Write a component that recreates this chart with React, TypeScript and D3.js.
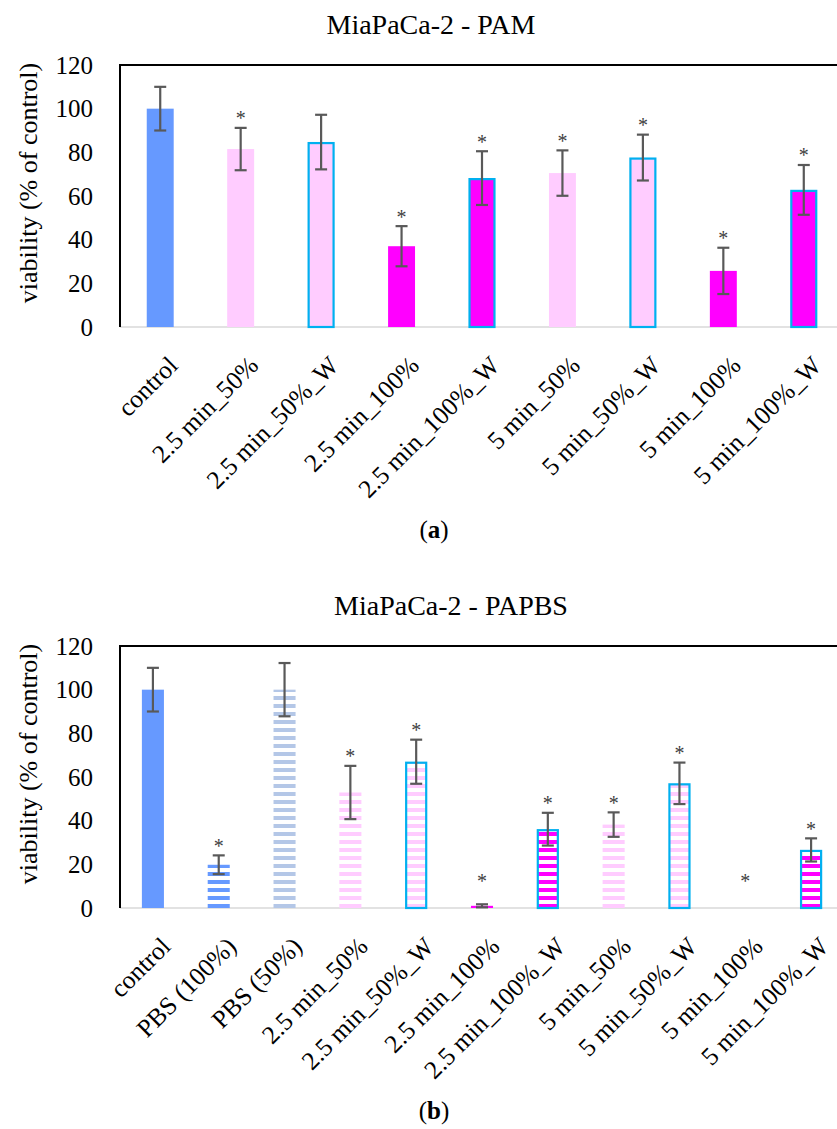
import React from 'react';
import * as d3 from 'd3';

// panel (a): MiaPaCa-2 - PAM
const catsA = ['control', '2.5 min_50%', '2.5 min_50%_W', '2.5 min_100%', '2.5 min_100%_W', '5 min_50%', '5 min_50%_W', '5 min_100%', '5 min_100%_W'];
const meanA = [100, 81.5, 84.7, 37, 68.2, 70.5, 77.6, 25.7, 62.8];
const errA = [10, 9.7, 12.5, 9.2, 12.3, 10.4, 10.5, 10.6, 11.4];
const sigA = [false, true, false, true, true, true, true, true, true];

// panel (b): MiaPaCa-2 - PAPBS
const catsB = ['control', 'PBS (100%)', 'PBS (50%)', '2.5 min_50%', '2.5 min_50%_W', '2.5 min_100%', '2.5 min_100%_W', '5 min_50%', '5 min_50%_W', '5 min_100%', '5 min_100%_W'];
const meanB = [100, 19.8, 100, 52.9, 67, 1, 36.1, 38.2, 57.1, 0, 26.6];
const errB = [10, 4.3, 12.2, 12.2, 10.1, 0.7, 7.5, 5.6, 9.5, 0, 5.3];
const sigB = [false, true, false, true, true, true, true, true, true, true, true];

const yTicks = [0, 20, 40, 60, 80, 100, 120];

const FONT = '"Liberation Serif", "Times New Roman", serif';
const BLUE = '#6699FF';
const STEEL = '#B4C7E7';
const PINK = '#FFCCFF';
const MAGENTA = '#FF00FF';
const CYAN = '#00B0F0';

const baseColor = (c: string) => {
  if (c === 'control' || c === 'PBS (100%)') return BLUE;
  if (c === 'PBS (50%)') return STEEL;
  if (c.includes('100%')) return MAGENTA;
  return PINK;
};

type PanelProps = {
  cats: string[];
  mean: number[];
  err: number[];
  sig: boolean[];
  top: number;
  striped: boolean;
  title: string;
  titleX: number;
  tag: string;
};

const Panel = ({ cats, mean, err, sig, top, striped, title, titleX, tag }: PanelProps) => {
  const left = 120;
  const right = 844;
  const h = 262;
  const bottom = top + h;
  const x = d3.scaleBand<string>().domain(cats).range([left, right]).paddingInner(0.665).paddingOuter(0.3325);
  const y = d3.scaleLinear().domain([0, 120]).range([bottom, top]);
  const bw = x.bandwidth();

  const fillFor = (c: string) => {
    const col = baseColor(c);
    if (!striped || c === 'control') return col;
    return `url(#stripe-${col.slice(1)})`;
  };

  return (
    <g>
      <text x={titleX} y={top - 31} textAnchor="middle" fontFamily={FONT} fontSize={28} fill="#000">{title}</text>
      <line x1={left} x2={right} y1={bottom} y2={bottom} stroke="#D9D9D9" strokeWidth={1.5} />
      <path d={`M${left},${bottom}V${top}H${right + 10}`} fill="none" stroke="#000" strokeWidth={2} />
      {yTicks.map(t => (
        <text key={t} x={93} y={y(t)} dy="0.35em" textAnchor="end" fontFamily={FONT} fontSize={25} fill="#000">{t}</text>
      ))}
      <text transform={`translate(37,${top + 118}) rotate(-90)`} textAnchor="middle" fontFamily={FONT} fontSize={26} fill="#000">viability (% of control)</text>
      {cats.map((c, i) => {
        const x0 = x(c) as number;
        const cx = x0 + bw / 2;
        const v = mean[i];
        const hi = v + err[i];
        const lo = Math.max(0, v - err[i]);
        const outlined = c.endsWith('_W');
        const starY = Math.min(y(hi) - 15, y(0) - 32);
        return (
          <g key={c}>
            {v > 0 && (
              outlined ? (
                <rect x={x0 + 1} y={y(v) + 1} width={bw - 2} height={y(0) - y(v) - 1} fill={fillFor(c)} stroke={CYAN} strokeWidth={2.2} />
              ) : (
                <rect x={x0} y={y(v)} width={bw} height={y(0) - y(v)} fill={fillFor(c)} />
              )
            )}
            {err[i] > 0 && (
              <g stroke="#595959" strokeWidth={2.2}>
                <line x1={cx} x2={cx} y1={y(hi)} y2={y(lo)} />
                <line x1={cx - 6} x2={cx + 6} y1={y(hi)} y2={y(hi)} />
                <line x1={cx - 6} x2={cx + 6} y1={y(lo)} y2={y(lo)} />
              </g>
            )}
            {sig[i] && (
              <text x={cx} y={starY} dy="0.62em" textAnchor="middle" fontFamily={FONT} fontSize={20} fill="#404040">*</text>
            )}
            <text transform={`translate(${cx + 6},${bottom + 27}) rotate(-45)`} textAnchor="end" dominantBaseline="hanging" fontFamily={FONT} fontSize={25.5} fill="#000">{c}</text>
          </g>
        );
      })}
      <text x={434} y={top + 473} textAnchor="middle" fontFamily={FONT} fontSize={25} fill="#000">
        (<tspan fontWeight="bold">{tag}</tspan>)
      </text>
    </g>
  );
};

const App = () => {
  const stripeCols = [BLUE, STEEL, PINK, MAGENTA];
  return (
    <svg width={837} height={1129} style={{ position: 'absolute', left: 0, top: 0, background: '#fff' }}>
      <defs>
        {stripeCols.map(col => (
          <pattern key={col} id={`stripe-${col.slice(1)}`} patternUnits="userSpaceOnUse" width={8} height={8}>
            <rect width={8} height={8} fill="#fff" />
            <rect width={8} height={4} fill={col} />
          </pattern>
        ))}
      </defs>
      <rect width={837} height={1129} fill="#fff" />
      <Panel cats={catsA} mean={meanA} err={errA} sig={sigA} top={65} striped={false} title="MiaPaCa-2 - PAM" titleX={431} tag="a" />
      <Panel cats={catsB} mean={meanB} err={errB} sig={sigB} top={646} striped={true} title="MiaPaCa-2 - PAPBS" titleX={451} tag="b" />
    </svg>
  );
};

export default App;
